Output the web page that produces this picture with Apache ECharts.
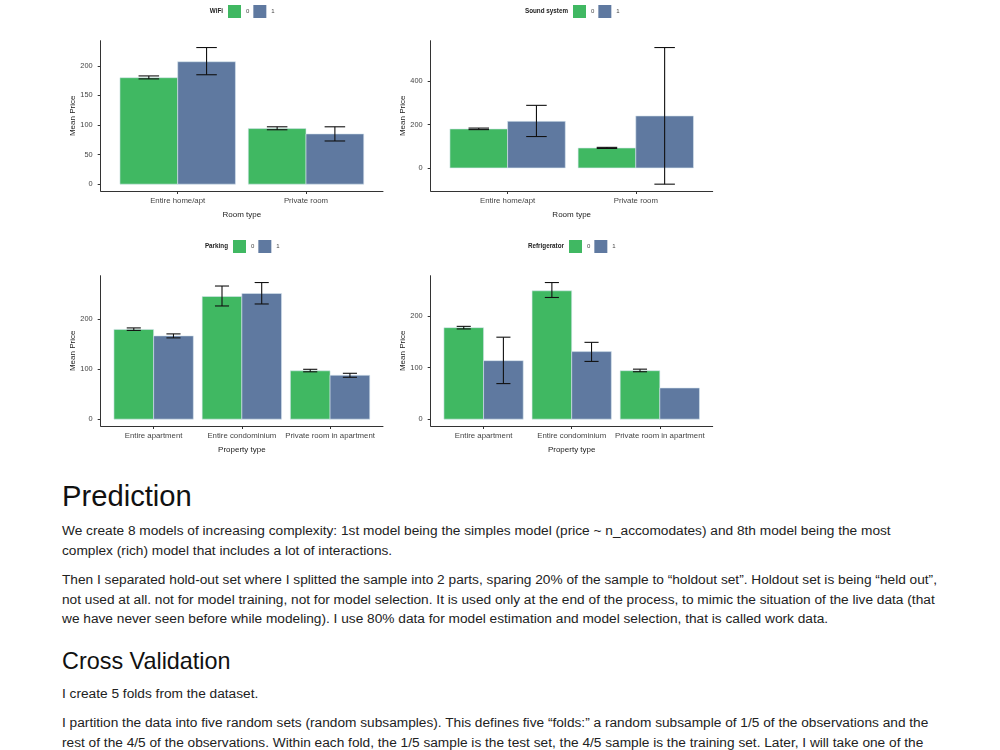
<!DOCTYPE html>
<html>
<head>
<meta charset="utf-8">
<script src="https://cdn.jsdelivr.net/npm/echarts@6/dist/echarts.min.js"></script>
<style>
  body { margin: 0; background: #fff; width: 1000px; height: 750px; overflow: hidden; position: relative; font-family: "Liberation Sans", Arial, sans-serif; }
  #charts { position: absolute; left: 0; top: 0; width: 1000px; height: 460px; }
  .blk { position: absolute; left: 62px; white-space: nowrap; margin: 0; }
  h2.blk { font-weight: normal; color: #111; }
  p.blk { font-size: 13.7px; line-height: 19.5px; color: #222; }
</style>
</head>
<body>
<div id="charts"></div>

<h2 class="blk" style="top:479px;font-size:29.2px;line-height:34px;">Prediction</h2>
<p class="blk" style="top:521px;">We create 8 models of increasing complexity: 1st model being the simples model (price ~ n_accomodates) and 8th model being the most<br>complex (rich) model that includes a lot of interactions.</p>
<p class="blk" style="top:570px;">Then I separated hold-out set where I splitted the sample into 2 parts, sparing 20% of the sample to “holdout set”. Holdout set is being “held out”,<br>not used at all. not for model training, not for model selection. It is used only at the end of the process, to mimic the situation of the live data (that<br>we have never seen before while modeling). I use 80% data for model estimation and model selection, that is called work data.</p>
<h2 class="blk" style="top:647px;font-size:23.4px;line-height:28px;">Cross Validation</h2>
<p class="blk" style="top:684px;">I create 5 folds from the dataset.</p>
<p class="blk" style="top:713px;">I partition the data into five random sets (random subsamples). This defines five “folds:” a random subsample of 1/5 of the observations and the<br>rest of the 4/5 of the observations. Within each fold, the 1/5 sample is the test set, the 4/5 sample is the training set. Later, I will take one of the</p>

<script>
// categories
const roomTypes = ['Entire home/apt', 'Private room']
const propertyTypes = ['Entire apartment', 'Entire condominium', 'Private room in apartment']

// mean price, group 0 / group 1, and error bar [low, high]
const wifi0 = [180, 94]
const wifi1 = [207, 85]
const wifiErr0 = [[178, 183], [92, 97]]
const wifiErr1 = [[185, 231], [73, 97]]

const sound0 = [180, 92]
const sound1 = [215, 240]
const soundErr0 = [[177, 184], [90, 95]]
const soundErr1 = [[145, 289], [-75, 556]]

const parking0 = [180, 246, 97]
const parking1 = [167, 252, 88]
const parkingErr0 = [[178, 183], [227, 267], [95, 100]]
const parkingErr1 = [[163, 171], [231, 274], [84, 92]]

const fridge0 = [177.5, 249, 94]
const fridge1 = [113.5, 131, 60.5]
const fridgeErr0 = [[175, 180], [236, 265], [92, 97]]
const fridgeErr1 = [[69, 159], [112, 149], null]

// y tick labels
const wifiTicks = [0, 50, 100, 150, 200]
const soundTicks = [0, 200, 400]
const parkingTicks = [0, 100, 200]
const fridgeTicks = [0, 100, 200]

const GREEN = '#40b862'
const BLUE = '#5f79a0'
const FONT = '"Liberation Sans", Arial, sans-serif'

const panels = [
  { title: 'WiFi', cats: roomTypes, xName: 'Room type', m0: wifi0, m1: wifi1, e0: wifiErr0, e1: wifiErr1, ticks: wifiTicks,
    grid: { left: 100.7, top: 40.7, width: 282.3, height: 150.3 }, legendLeft: 228, legendTop: 5 },
  { title: 'Sound system', cats: roomTypes, xName: 'Room type', m0: sound0, m1: sound1, e0: soundErr0, e1: soundErr1, ticks: soundTicks,
    grid: { left: 430.7, top: 40.7, width: 282, height: 150.3 }, legendLeft: 573, legendTop: 5 },
  { title: 'Parking', cats: propertyTypes, xName: 'Property type', m0: parking0, m1: parking1, e0: parkingErr0, e1: parkingErr1, ticks: parkingTicks,
    grid: { left: 100.7, top: 275.7, width: 282.3, height: 150.3 }, legendLeft: 233, legendTop: 240 },
  { title: 'Refrigerator', cats: propertyTypes, xName: 'Property type', m0: fridge0, m1: fridge1, e0: fridgeErr0, e1: fridgeErr1, ticks: fridgeTicks,
    grid: { left: 430.7, top: 275.7, width: 282, height: 150.3 }, legendLeft: 569, legendTop: 240 }
]

const BAR_W = 0.45   // ggplot dodge width 0.9
const WHISKER = 0.08

function barRender (off, color) {
  return function (params, api) {
    const x = api.value(0) + off
    const p1 = api.coord([x, api.value(1)])
    const p2 = api.coord([x + BAR_W, 0])
    return {
      type: 'rect',
      shape: { x: p1[0], y: p1[1], width: p2[0] - p1[0], height: p2[1] - p1[1] },
      style: { fill: color, stroke: '#d6e6ee', lineWidth: 0.6 }
    }
  }
}

function errRender (params, api) {
  const x = api.value(0)
  const lo = api.value(1)
  const hi = api.value(2)
  const a = api.coord([x, lo])
  const b = api.coord([x, hi])
  const l = api.coord([x - WHISKER, lo])[0]
  const r = api.coord([x + WHISKER, lo])[0]
  const st = { stroke: '#111', lineWidth: 1.1 }
  return {
    type: 'group',
    children: [
      { type: 'line', shape: { x1: a[0], y1: a[1], x2: b[0], y2: b[1] }, style: st },
      { type: 'line', shape: { x1: l, y1: a[1], x2: r, y2: a[1] }, style: st },
      { type: 'line', shape: { x1: l, y1: b[1], x2: r, y2: b[1] }, style: st }
    ]
  }
}

const option = { animation: false, grid: [], xAxis: [], yAxis: [], legend: [], series: [], graphic: [] }

panels.forEach(function (p, i) {
  // ggplot style 5% expansion of the data range
  const vals = [0].concat(p.m0, p.m1)
  p.e0.concat(p.e1).forEach(e => { if (e) vals.push(e[0], e[1]) })
  const lo = Math.min.apply(null, vals)
  const hi = Math.max.apply(null, vals)
  const pad = (hi - lo) * 0.05
  const n = p.cats.length
  const catPos = p.cats.map((c, k) => k + 1)

  option.grid.push(p.grid)
  option.xAxis.push({
    type: 'value', gridIndex: i, min: 0.4, max: n + 0.6,
    name: p.xName, nameLocation: 'middle', nameGap: 20,
    nameTextStyle: { fontSize: 8, color: '#222', fontFamily: FONT },
    axisLine: { show: true, onZero: false, lineStyle: { color: '#333', width: 1 } },
    axisTick: { show: true, length: 3, customValues: catPos, lineStyle: { color: '#333' } },
    axisLabel: { customValues: catPos, margin: 6, fontSize: 7.8, color: '#444', fontFamily: FONT,
      formatter: v => p.cats[Math.round(v) - 1] || '' },
    splitLine: { show: false }
  })
  option.yAxis.push({
    type: 'value', gridIndex: i, min: lo - pad, max: hi + pad,
    name: 'Mean Price', nameLocation: 'middle', nameGap: 23.5,
    nameTextStyle: { fontSize: 8, color: '#222', fontFamily: FONT },
    axisLine: { show: true, onZero: false, lineStyle: { color: '#333', width: 1 } },
    axisTick: { show: true, length: 3, customValues: p.ticks, lineStyle: { color: '#333' } },
    axisLabel: { customValues: p.ticks, margin: 8, fontSize: 7.4, color: '#444', fontFamily: FONT },
    splitLine: { show: false }
  })
  option.legend.push({
    data: ['0', '1'], left: p.legendLeft, top: p.legendTop, orient: 'horizontal',
    icon: 'rect', itemWidth: 13, itemHeight: 13, itemGap: 4, padding: 0, selectedMode: false,
    textStyle: { fontSize: 6, color: '#444', fontFamily: FONT }
  })
  option.graphic.push({
    type: 'text', x: p.legendLeft - 5, y: p.legendTop + 6.5,
    style: { text: p.title, textAlign: 'right', textVerticalAlign: 'middle', align: 'right', verticalAlign: 'middle',
      font: 'bold 6.3px ' + FONT, fill: '#222' }
  })

  option.series.push({
    name: '0', type: 'custom', xAxisIndex: i, yAxisIndex: i, itemStyle: { color: GREEN },
    renderItem: barRender(-BAR_W, GREEN), encode: { x: 0, y: 1 },
    data: p.m0.map((v, k) => [k + 1, v])
  })
  option.series.push({
    name: '1', type: 'custom', xAxisIndex: i, yAxisIndex: i, itemStyle: { color: BLUE },
    renderItem: barRender(0, BLUE), encode: { x: 0, y: 1 },
    data: p.m1.map((v, k) => [k + 1, v])
  })
  const errData = []
  p.e0.forEach((e, k) => { if (e) errData.push([k + 1 - BAR_W / 2, e[0], e[1]]) })
  p.e1.forEach((e, k) => { if (e) errData.push([k + 1 + BAR_W / 2, e[0], e[1]]) })
  option.series.push({
    name: 'err', type: 'custom', xAxisIndex: i, yAxisIndex: i, z: 5,
    renderItem: errRender, encode: { x: 0, y: [1, 2] }, data: errData
  })
})

const myChart = echarts.init(document.getElementById('charts'), null, { renderer: 'canvas' })
myChart.setOption(option)
</script>
</body>
</html>
